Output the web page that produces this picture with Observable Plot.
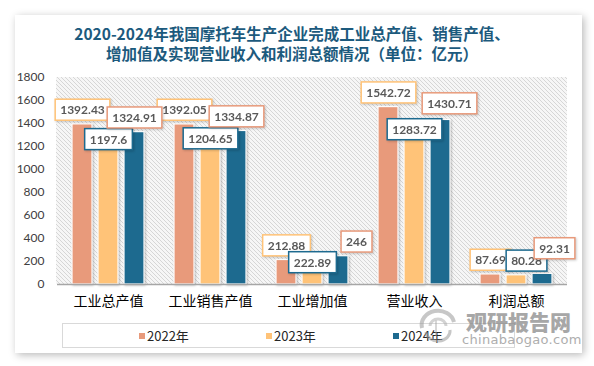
<!DOCTYPE html>
<html><head><meta charset="utf-8">
<script src="https://cdn.jsdelivr.net/npm/d3@7"></script>
<script src="https://cdn.jsdelivr.net/npm/@observablehq/plot@0.6"></script>
<style>
body{margin:0;background:#fff;width:594px;height:366px;overflow:hidden;position:relative;font-family:"Noto Sans CJK SC",sans-serif}
#card{position:absolute;left:15px;top:15px;width:567px;height:338px;background:#fff;box-shadow:2px 2px 8px rgba(0,0,0,0.28)}
#chart{position:absolute;left:0;top:0}
#title{position:absolute;left:0;top:23px;width:584px;text-align:center;font-size:15.5px;font-weight:700;line-height:20px;color:#1C5A7D}
#legend{position:absolute;left:62px;top:323px;width:451px;height:23px;border:1px solid #D9D9D9;box-sizing:content-box}
.li{position:absolute;top:0;height:23px;line-height:23px;font-size:13px;color:#262626;white-space:nowrap}
.sw{display:inline-block;width:6px;height:6px;margin-right:2px;vertical-align:middle;position:relative;top:-1px}
#wm1{position:absolute;left:466px;top:306px;font-size:21px;font-weight:900;color:#8a8a8a;opacity:0.75;letter-spacing:0px;white-space:nowrap}
#wm2{position:absolute;left:462px;top:332px;font-size:13px;font-family:"DejaVu Sans",sans-serif;color:#9a9a9a;opacity:0.8;white-space:nowrap;letter-spacing:0.3px}
#logo{position:absolute;left:416px;top:306px;opacity:0.55}
</style></head>
<body>
<div id="card"></div>
<div id="chart"></div>
<div id="title">2020-2024年我国摩托车生产企业完成工业总产值、销售产值、<br>增加值及实现营业收入和利润总额情况（单位：亿元）</div>
<div id="legend"></div>
<svg id="logo" width="44" height="40" viewBox="0 0 44 40">
<path d="M6,22 A16,14 0 0 1 38,16" fill="none" stroke="#9a9a9a" stroke-width="4"/>
<path d="M10,26 A12,10 0 0 0 34,24" fill="none" stroke="#9a9a9a" stroke-width="3"/>
<path d="M14,20 A8,7 0 0 1 30,20" fill="none" stroke="#b0b0b0" stroke-width="3"/>
<line x1="20" y1="14" x2="20" y2="30" stroke="#a0a0a0" stroke-width="1.5"/>
</svg>
<div id="wm1">观研报告网</div>
<div id="wm2">chinabaogao.com</div>
<script>
const categories = ["工业总产值","工业销售产值","工业增加值","营业收入","利润总额"];
const years = ["2022年","2023年","2024年"];
const v2022 = [1392.43,1392.05,212.88,1542.72,87.69];
const v2023 = [1197.6,1204.65,222.89,1283.72,80.28];
const v2024 = [1324.91,1334.87,246,1430.71,92.31];
const yTicks = [0,200,400,600,800,1000,1200,1400,1600,1800];

// styling / layout
const colors = ["#E89A7B","#FFC378","#1D6A8F"];
const boxColors = [colors[1], colors[2], colors[0]];
const labelDy = [-14,-7,-14];
// near-identical greys used to tell the three label series apart after rendering
const labelFills = ["#595959","#595958","#59595a"];
// small pixel nudges of individual value boxes (to avoid collisions, as in the original)
const labelNudge = {
  "工业增加值|2023年": {dx:0, dy:11},
  "工业增加值|2024年": {dx:18, dy:0},
  "营业收入|2024年": {dx:9, dy:-2},
  "利润总额|2023年": {dx:10, dy:-7},
  "利润总额|2024年": {dx:12, dy:-11}
};

const series = [v2022, v2023, v2024];
const data = categories.flatMap((c,i)=>years.map((y,j)=>({cat:c, year:y, value:series[j][i]})));

const W=594,H=366,mL=56,mR=27,mT=77,mB=82;

const plot = Plot.plot({
  width:W,height:H,marginLeft:mL,marginRight:mR,marginTop:mT,marginBottom:mB,
  style:{background:"transparent",fontFamily:"Lato, 'Noto Sans CJK SC', sans-serif",fontSize:"12px",color:"#404040"},
  fx:{domain:categories,padding:0,label:null,axis:null},
  x:{domain:years,paddingInner:0.22,paddingOuter:0.55,axis:null},
  y:{domain:[0,1800],axis:null},
  color:{domain:years,range:colors},
  marks:[
    Plot.axisY({ticks:yTicks,tickFormat:d=>String(d),tickSize:0,tickPadding:13,label:null,fontSize:12,color:"#404040"}),
    Plot.axisFx({anchor:"bottom",tickSize:0,tickPadding:12,label:null,fontSize:14,color:"#000",fontFamily:"'Noto Sans CJK SC', sans-serif"}),
    Plot.barY(data,{fx:"cat",x:"year",y:"value",fill:"year",stroke:"white",strokeWidth:1.2}),
    Plot.ruleY([0],{stroke:"#A6A6A6",strokeWidth:1.3}),
    ...years.map((yr,j)=>Plot.text(data.filter(d=>d.year===yr),{
      fx:"cat",x:"year",y:"value",text:d=>String(d.value),dy:labelDy[j],
      fontWeight:"bold",fontSize:12,fill:labelFills[j]}))
  ]
});

document.getElementById("chart").append(plot);

// hatched plot background
const ns="http://www.w3.org/2000/svg";
const defs=document.createElementNS(ns,"defs");
defs.innerHTML=`<pattern id="hatch" width="4" height="4" patternUnits="userSpaceOnUse">
<rect width="4" height="4" fill="#F6F6F6"/>
<path d="M-1,-1 L5,5 M-1,3 L1,5 M3,-1 L5,1" stroke="#D2D2D2" stroke-width="0.9"/>
</pattern>`;
plot.insertBefore(defs, plot.firstChild);
const bg=document.createElementNS(ns,"rect");
bg.setAttribute("x",mL);bg.setAttribute("y",mT);
bg.setAttribute("width",W-mL-mR);bg.setAttribute("height",H-mT-mB);
bg.setAttribute("fill","url(#hatch)");
defs.after(bg);

plot.querySelectorAll('g[aria-label="bar"]').forEach(g=>g.style.filter="drop-shadow(1px 1px 1px rgba(0,0,0,0.25))");

// label boxes
plot.querySelectorAll('g[aria-label="text"] text').forEach(t=>{
  const g=t.closest("g[fill]");
  if(!g) return;
  const j=labelFills.indexOf((g.getAttribute("fill")||"").toLowerCase());
  if(j<0) return;
  const d=data.find(e=>e.year===years[j] && String(e.value)===t.textContent);
  const nudge=(d && labelNudge[d.cat+"|"+d.year]) || {dx:0,dy:0};
  t.setAttribute("fill","#595959");
  const bb=t.getBBox();
  const cy=bb.y+bb.height/2;
  const wrap=document.createElementNS(ns,"g");
  wrap.setAttribute("transform",`translate(${nudge.dx},${nudge.dy})`);
  const r=document.createElementNS(ns,"rect");
  r.setAttribute("x",bb.x-5);r.setAttribute("y",cy-10.5);
  r.setAttribute("width",bb.width+10);r.setAttribute("height",21);
  r.setAttribute("fill","#fff");r.setAttribute("stroke",boxColors[j]);r.setAttribute("stroke-width",1.5);
  r.style.filter="drop-shadow(1px 1px 1px rgba(0,0,0,0.2))";
  const tr=t.getAttribute("transform"); if(tr) r.setAttribute("transform",tr);
  t.parentNode.insertBefore(wrap,t);
  wrap.append(r);
  wrap.append(t);
});

// legend
const legend=document.getElementById("legend");
const legStart=76, legStep=127;
years.forEach((yr,j)=>{
  const it=document.createElement("div");
  it.className="li";it.style.left=(legStart+j*legStep)+"px";
  it.innerHTML=`<span class="sw" style="background:${colors[j]}"></span>${yr}`;
  legend.append(it);
});
</script>
</body></html>
